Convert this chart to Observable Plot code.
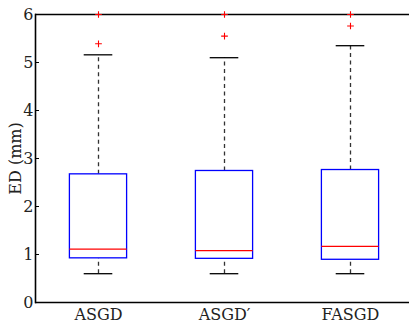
<!DOCTYPE html>
<html>
<head>
<meta charset="utf-8">
<script src="https://cdn.jsdelivr.net/npm/d3@7"></script>
<script src="https://cdn.jsdelivr.net/npm/@observablehq/plot@0.6"></script>
<style>
  html, body { margin: 0; padding: 0; background: #fff; overflow: hidden; }
  svg text { font-family: "DejaVu Serif", serif; }
</style>
</head>
<body>
<div id="chart"></div>
<script>
const methods = ["ASGD", "ASGD\u2032", "FASGD"];
const lowerWhisker = [0.60, 0.60, 0.60];
const q1 = [0.92, 0.91, 0.89];
const medians = [1.11, 1.08, 1.17];
const q3 = [2.67, 2.74, 2.76];
const upperWhisker = [5.16, 5.10, 5.35];
const outliers = [[5.39, 6.0], [5.55, 6.0], [5.76, 6.0]];
const yTicks = [0, 1, 2, 3, 4, 5, 6];

const boxes = methods.map((m, i) => ({
  method: m, lo: lowerWhisker[i], q1: q1[i], med: medians[i], q3: q3[i], hi: upperWhisker[i]
}));
const outlierPts = methods.flatMap((m, i) => outliers[i].map(v => ({method: m, value: v})));

const font = "DejaVu Serif";
const boxInset = 34.4;
const capInset = 48.7;

const chart = Plot.plot({
  width: 409,
  height: 325,
  marginLeft: 35,
  marginRight: 0,
  marginTop: 14,
  marginBottom: 23,
  style: {fontFamily: font, fontSize: "16px", background: "#fff", overflow: "hidden"},
  x: {type: "band", domain: methods, range: [34, 413.5], padding: 0, label: null},
  y: {domain: [0, 6], label: null},
  marks: [
    Plot.ruleY([0, 6], {stroke: "#000", strokeWidth: 1.6}),
    Plot.frame({anchor: "left", stroke: "#000", strokeWidth: 1.6}),
    Plot.tickY(yTicks, {stroke: "#000", strokeWidth: 1, insetRight: 370}),
    Plot.axisY({ticks: yTicks, tickFormat: d3.format("d"), tickSize: 0, tickPadding: 2, fontSize: 16, fill: "#222",
      label: "ED (mm)", labelAnchor: "center", labelArrow: "none", labelOffset: 26}),
    Plot.axisX({tickSize: 0, tickPadding: 6, fontSize: 16, fill: "#222"}),
    Plot.ruleX(boxes, {x: "method", y1: "q3", y2: "hi", stroke: "#333", strokeWidth: 1.3, strokeDasharray: "4,3.5"}),
    Plot.ruleX(boxes, {x: "method", y1: "lo", y2: "q1", stroke: "#333", strokeWidth: 1.3, strokeDasharray: "4,3.5"}),
    Plot.tickY(boxes, {x: "method", y: "hi", stroke: "#000", strokeWidth: 1.3, insetLeft: capInset, insetRight: capInset}),
    Plot.tickY(boxes, {x: "method", y: "lo", stroke: "#000", strokeWidth: 1.3, insetLeft: capInset, insetRight: capInset}),
    Plot.barY(boxes, {x: "method", y1: "q1", y2: "q3", fill: "#fff", stroke: "#0000ff", strokeWidth: 1.3, insetLeft: boxInset, insetRight: boxInset}),
    Plot.tickY(boxes, {x: "method", y: "med", stroke: "#ff0000", strokeWidth: 1.3, insetLeft: boxInset, insetRight: boxInset}),
    Plot.dot(outlierPts, {x: "method", y: "value", symbol: "plus", r: 2.3, stroke: "#ff0000", strokeWidth: 1.1})
  ]
});
document.getElementById("chart").appendChild(chart);
</script>
</body>
</html>
